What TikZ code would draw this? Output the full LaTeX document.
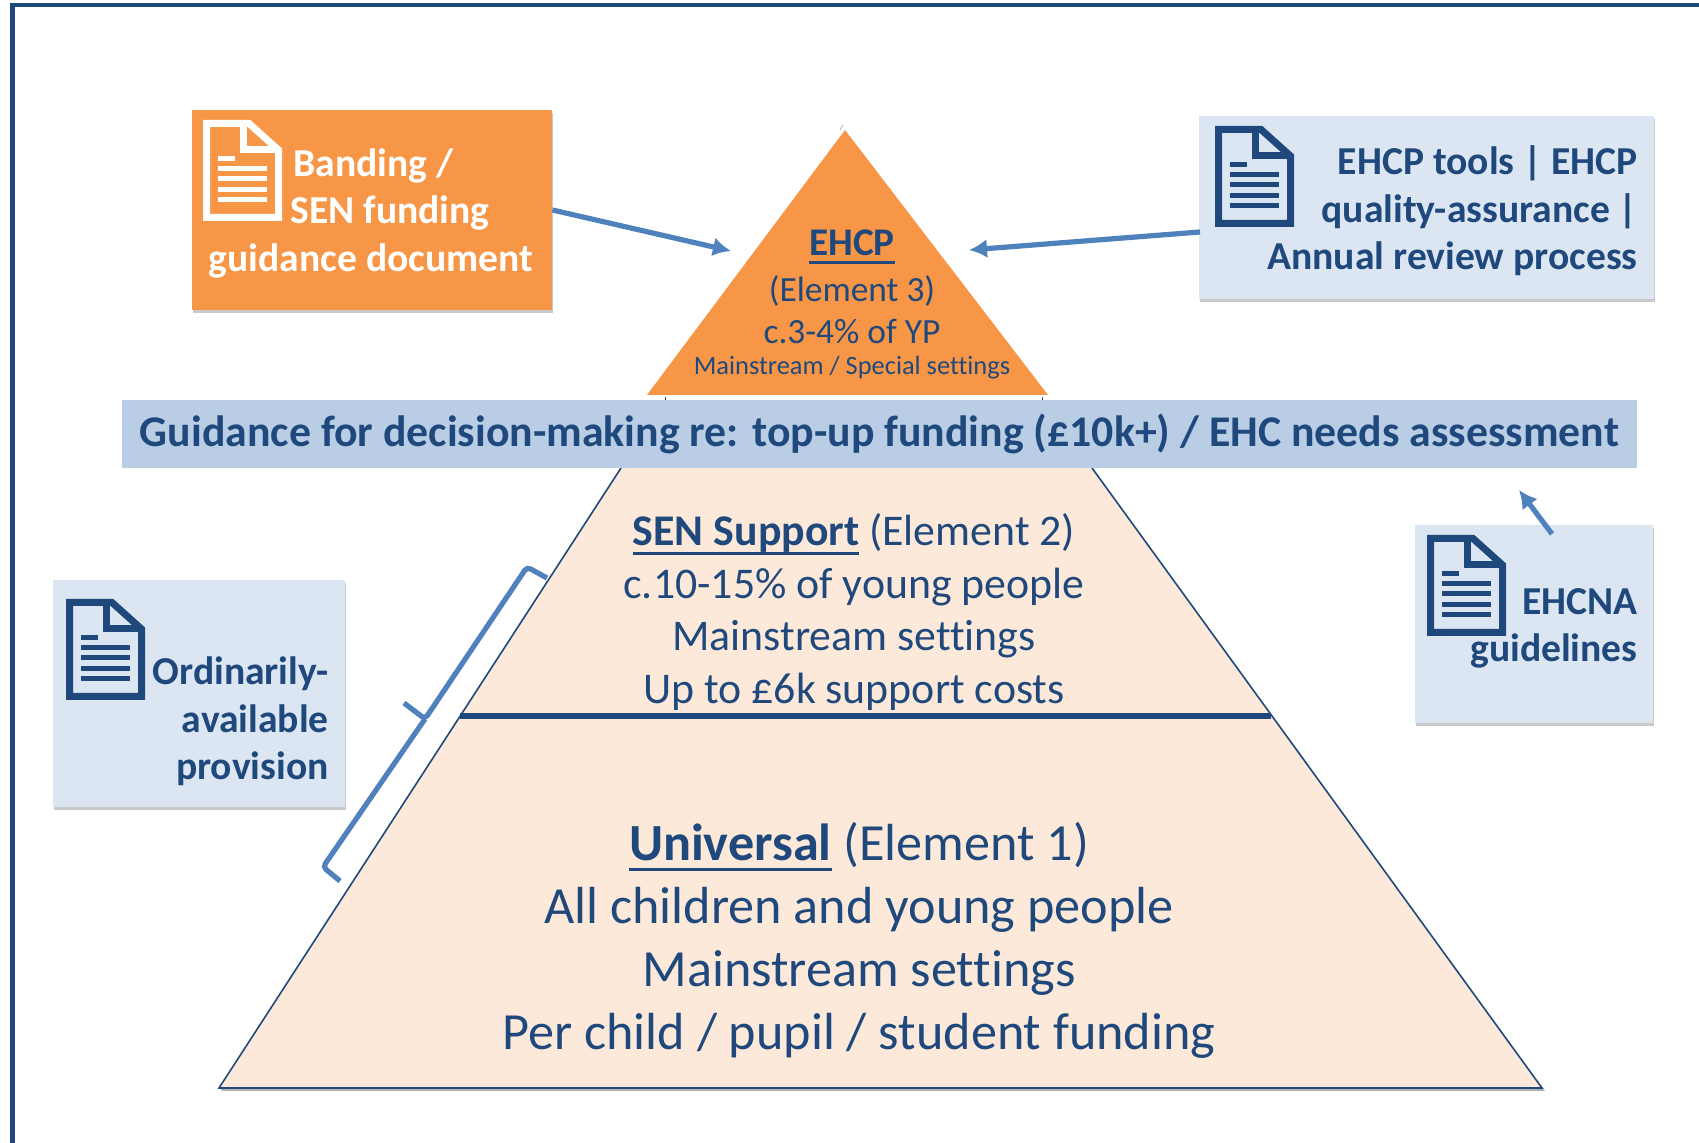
\documentclass[tikz,border=0pt]{standalone}
\usepackage{fontspec}
\setmainfont[Ligatures=NoCommon]{Carlito}
\usetikzlibrary{shadows,arrows.meta}
\definecolor{navy}{HTML}{1F497D}
\definecolor{steel}{HTML}{4F81BD}
\definecolor{peach}{HTML}{FDE9D9}
\definecolor{pale}{HTML}{DCE6F2}
\definecolor{band}{HTML}{B9CDE5}
\definecolor{orng}{HTML}{F79646}
\newcommand\ulin[1]{\setbox0\hbox{#1}\rlap{\rule[-0.2em]{\wd0}{0.065em}}\box0}
\newcommand\fs[2]{\fontsize{#1}{#2}\selectfont}
\tikzset{
  card/.style={draw=none,inner sep=0pt,drop shadow={shadow xshift=0.6pt,shadow yshift=-1.6pt,opacity=.35,fill=black!60}},
  label/.style={inner sep=0pt,text=navy,font=\bfseries\fs{19.8}{23.8}},
  flow/.style={draw=steel,line width=2.6pt,-{Latex[length=9pt,width=9.5pt]}},
  brace/.style={draw=steel,line width=2.6pt,rounded corners=2pt},
  tier/.style={inner sep=0pt,text=navy,align=center},
  docicon/.pic={
    \draw[line width=3.5pt,miter limit=4,draw=\tikzpictextoptions] (3.5,3.5) -- (46,3.5) -- (75.5,30) -- (75.5,97.5) -- (3.5,97.5) -- cycle;
    \draw[line width=3.5pt,draw=\tikzpictextoptions] (40,3.5) -- (40,30) -- (75.5,30);
    \draw[line width=2.5pt,draw=\tikzpictextoptions] (15,39) -- (32,39) (15,49) -- (64,49) (15,59) -- (64,59) (15,70) -- (64,70) (15,80) -- (64,80);
  }
}
\begin{document}
\begin{tikzpicture}[x=0.5pt,y=-0.5pt]
\useasboundingbox (0,0) rectangle (1699,1143);
\fill[white] (0,0) rectangle (1699,1143);
% frame
\draw[navy,line width=2.2pt] (12.5,1143) -- (12.5,5) -- (1699,5);
% pyramid
\fill[black!30] (222,1091) -- (1545,1091) -- (1542,1087) -- (219,1087) -- cycle;
\filldraw[fill=peach,draw=navy,line width=0.8pt] (621,468) -- (219,1088) -- (1542,1088) -- (1092,468);
\fill[orng] (845,130) -- (1048,395) -- (647,395) -- cycle;
\draw[steel!60,line width=0.4pt] (843,125) -- (840,130);
\draw[navy,line width=0.4pt] (665,397) -- (665,400) (1042,397) -- (1042,400);
\draw[navy,line width=3pt] (460,716) -- (1271,716);
\node[fill=band,inner sep=0pt,minimum width=757.5pt,minimum height=34pt,text=navy,font=\bfseries\fs{21.9}{25}] (bandbox) at (879.5,434) {Guidance for decision-making re: top-up funding (£10k+) / EHC needs assessment};
% tier text
\node[tier,font=\fs{19.6}{21}] (t3a) at (852,247) {\bfseries\ulin{EHCP}};
\node[tier,font=\fs{17.7}{21}] (t3b) at (852,291) {(Element 3)};
\node[tier,font=\fs{17.7}{21}] (t3c) at (852,332) {c.3-4\% of YP};
\node[tier,font=\fs{13.2}{15}] (t3d) at (852,368) {Mainstream / Special settings};
\node[tier,font=\fs{21.9}{26.2}] (t2) at (854,612) {{\bfseries\ulin{SEN Support}} (Element 2)\\c.10-15\% of young people\\Mainstream settings\\Up to £6k support costs};
\node[tier,font=\fs{26.1}{31.4}] (t1) at (859,940.5) {{\bfseries\ulin{Universal}} (Element 1)\\All children and young people\\Mainstream settings\\Per child / pupil / student funding};
% cards
\node[card,fill=orng,minimum width=180pt,minimum height=100pt] (orbox) at (372,210) {};
\node[card,fill=pale,minimum width=227.5pt,minimum height=91.5pt] (ehcpbox) at (1426.5,207.5) {};
\node[card,fill=pale,minimum width=146pt,minimum height=113.5pt] (oapbox) at (199,693.5) {};
\node[card,fill=pale,minimum width=119pt,minimum height=99pt] (enabox) at (1534,624) {};
% icons
\pic[pic text options=white] (icona) at (203,120) {docicon};
\pic[pic text options=navy] (iconb) at (1215,126) {docicon};
\pic[pic text options=navy] (iconc) at (66,599) {docicon};
\pic[pic text options=navy] (icond) at (1427,535) {docicon};
% card text
\node[label,text=white,anchor=west] (la) at (293,165.5) {Banding /};
\node[label,text=white,anchor=west] (lb) at (290,212.5) {SEN funding};
\node[label,text=white] (lc) at (371,260.5) {guidance document};
\node[label,align=right,anchor=east] (ld) at (1638,211) {EHCP tools | EHCP\\quality-assurance |\\Annual review process};
\node[label,align=right,anchor=east] (le) at (329,721.5) {Ordinarily-\\available\\provision};
\node[label,align=right,anchor=east] (lf) at (1638,628.5) {EHCNA\\guidelines};
% connectors
\coordinate (ta) at (731,251);
\coordinate (sb) at (1200,232);
\coordinate (tb) at (969,250);
\coordinate (sc) at (1552,534);
\coordinate (tc) at (1519,490);
\draw[flow] (orbox.east) -- (ta);
\draw[flow] (sb) -- (tb);
\draw[flow] (sc) -- (tc);
% bracket
\coordinate (ba) at (547,578);
\coordinate (bb) at (527,567);
\coordinate (bc) at (425,719);
\coordinate (bd) at (404,703);
\coordinate (be) at (323,867);
\coordinate (bf) at (340,881);
\draw[brace] (ba) -- (bb) -- (bc) -- (bd);
\draw[brace] (bc) -- (be) -- (bf);
\end{tikzpicture}
\end{document}
